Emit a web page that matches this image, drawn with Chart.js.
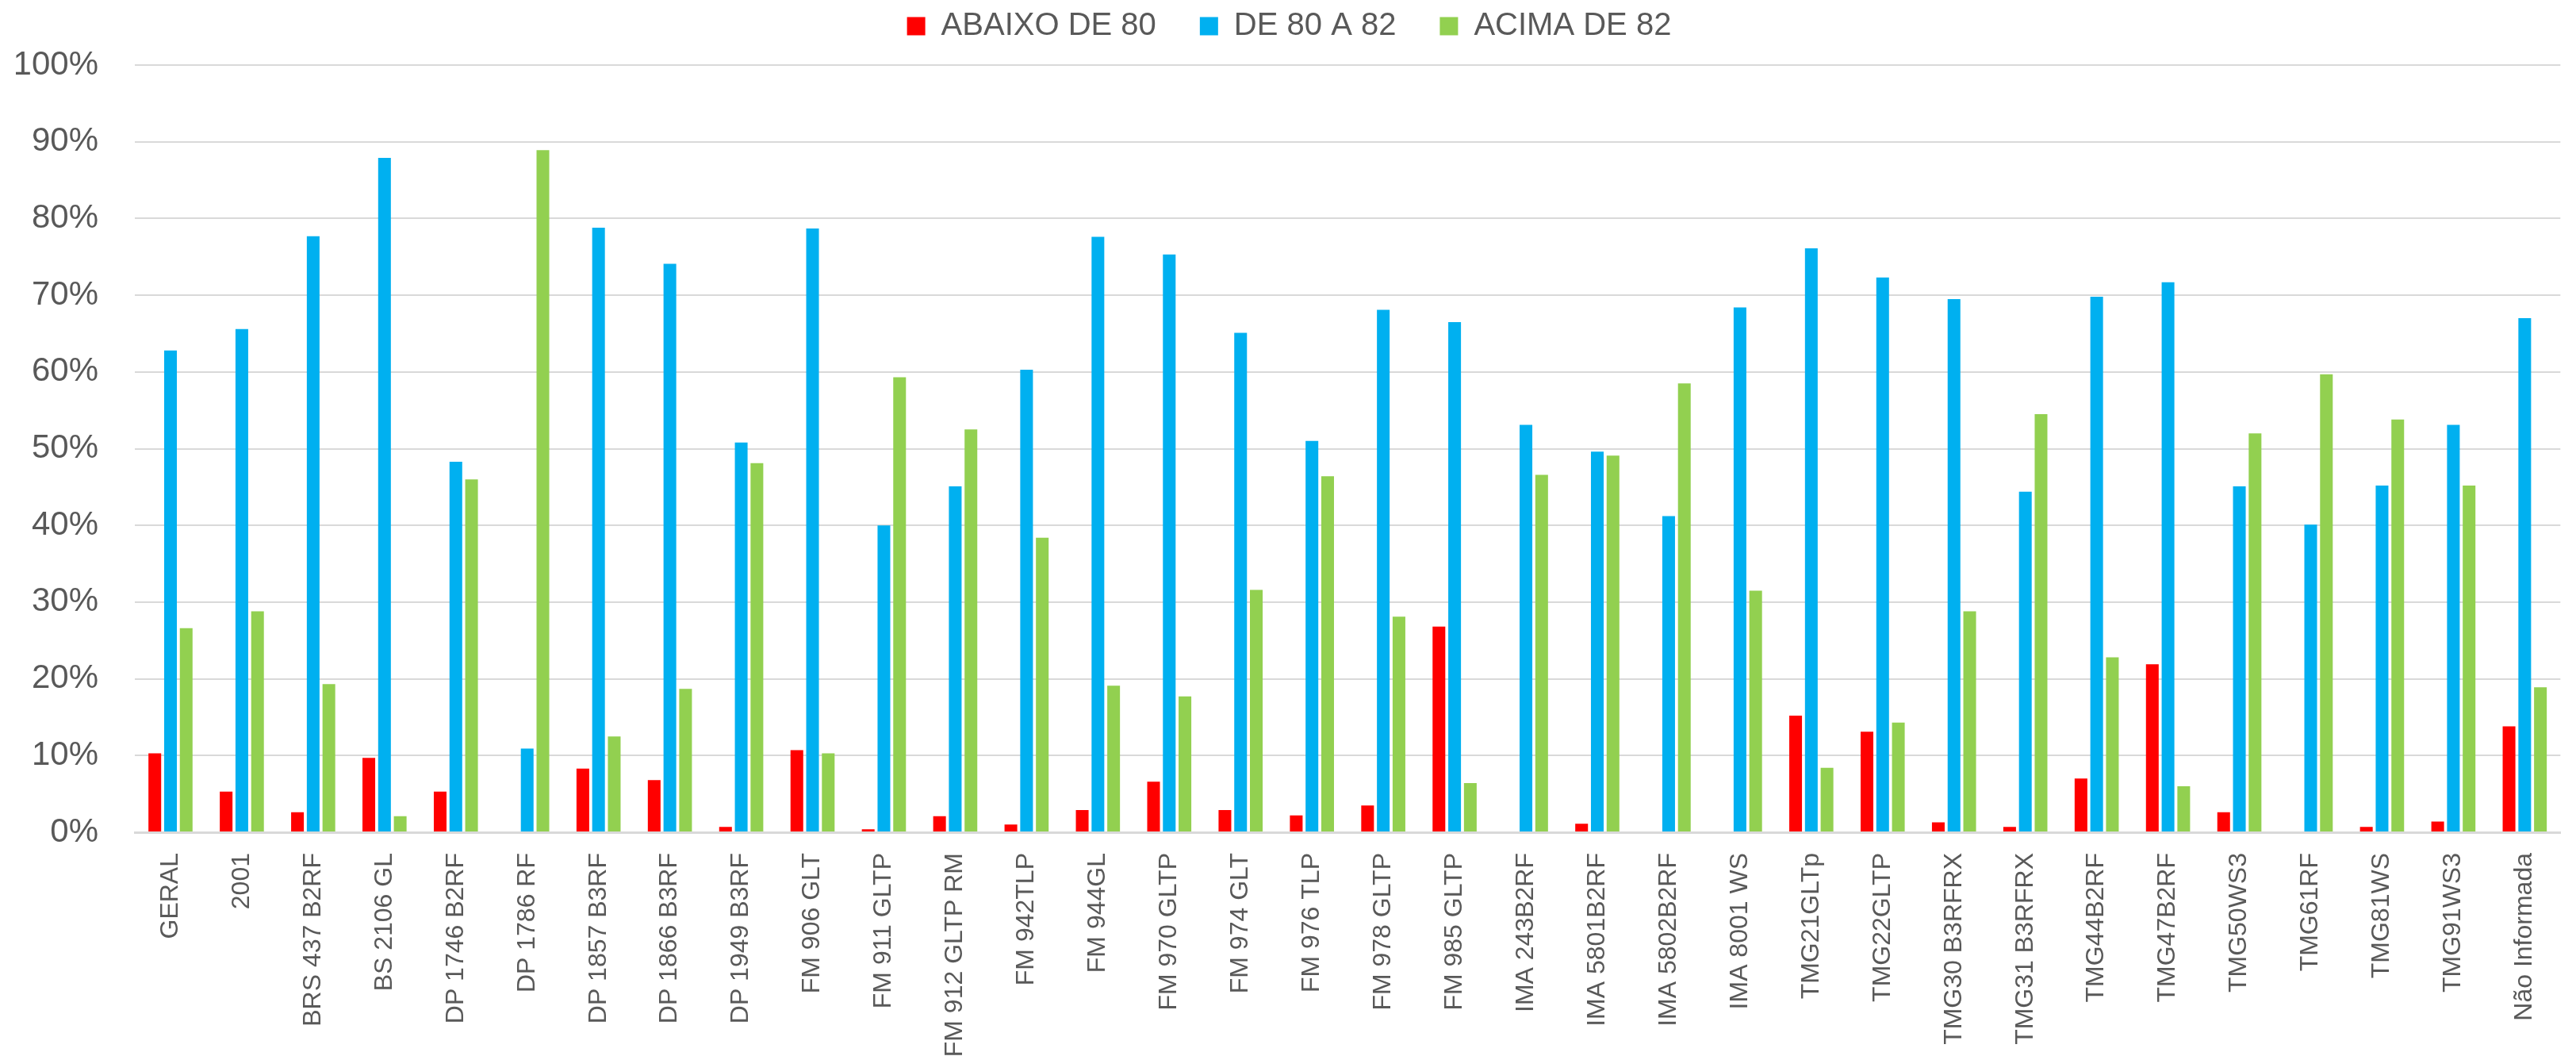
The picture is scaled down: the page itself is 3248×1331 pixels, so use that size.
<!DOCTYPE html>
<html lang="pt-BR">
<head>
<meta charset="utf-8">
<title>Distribuição por cultivar</title>
<script src="https://cdn.jsdelivr.net/npm/chart.js@4/dist/chart.umd.min.js"></script>
<style>
  html, body { margin: 0; padding: 0; background: #fff; overflow: hidden; }
  #caixa { width: 3248px; height: 1331px; position: relative; }
</style>
</head>
<body>
<div id="caixa"><canvas id="grafico"></canvas></div>
<script>
// ─── Dados (em %) ─────────────────────────────────────────────────────────────
const categorias = [
  'GERAL', '2001', 'BRS 437 B2RF', 'BS 2106 GL', 'DP 1746 B2RF', 'DP 1786 RF',
  'DP 1857 B3RF', 'DP 1866 B3RF', 'DP 1949 B3RF', 'FM 906 GLT', 'FM 911 GLTP',
  'FM 912 GLTP RM', 'FM 942TLP', 'FM 944GL', 'FM 970 GLTP', 'FM 974 GLT',
  'FM 976 TLP', 'FM 978 GLTP', 'FM 985 GLTP', 'IMA 243B2RF', 'IMA 5801B2RF',
  'IMA 5802B2RF', 'IMA 8001 WS', 'TMG21GLTp', 'TMG22GLTP', 'TMG30 B3RFRX',
  'TMG31 B3RFRX', 'TMG44B2RF', 'TMG47B2RF', 'TMG50WS3', 'TMG61RF', 'TMG81WS',
  'TMG91WS3', 'Não Informada'
];

const abaixo80 = [
  10.3, 5.3, 2.6, 9.7, 5.3, 0, 8.3, 6.8, 0.7, 10.7, 0.4,
  2.1, 1.0, 2.9, 6.6, 2.9, 2.2, 3.5, 26.8, 0.1, 1.1,
  0, 0, 15.2, 13.1, 1.3, 0.7, 7.0, 21.9, 2.6, 0, 0.7, 1.4, 13.8
];

const de80a82 = [
  62.8, 65.6, 77.7, 87.9, 48.3, 10.9, 78.8, 74.1, 50.8, 78.7, 40.0,
  45.1, 60.3, 77.6, 75.3, 65.1, 51.0, 68.1, 66.5, 53.1, 49.6,
  41.2, 68.4, 76.1, 72.3, 69.5, 44.4, 69.8, 71.7, 45.1, 40.1, 45.2, 53.1, 67.0
];

const acima82 = [
  26.6, 28.8, 19.3, 2.1, 46.0, 88.9, 12.5, 18.7, 48.1, 10.3, 59.3,
  52.5, 38.4, 19.1, 17.7, 31.6, 46.4, 28.1, 6.4, 46.6, 49.1,
  58.5, 31.5, 8.4, 14.3, 28.8, 54.5, 22.8, 6.0, 52.0, 59.7, 53.8, 45.2, 18.9
];

const nomesSeries = ['ABAIXO DE 80', 'DE 80 A 82', 'ACIMA DE 82'];
const ticksY = [0, 10, 20, 30, 40, 50, 60, 70, 80, 90, 100];

// Cores no padrão do Excel
const CORES = ['#FF0000', '#00B0F0', '#92D050'];
const COR_TEXTO = '#595959';
const COR_GRADE = '#D9D9D9';
const FONTE = "'Liberation Sans', Arial, sans-serif";

// A legenda do Chart.js usa o mesmo padding na horizontal e na vertical;
// aqui ela sobe e ocupa menos altura, mantendo o espaço entre os itens.
const ajusteLegenda = {
  id: 'ajusteLegenda',
  afterInit(chart) {
    const lg = chart.legend;
    const fitOrig = lg.fit.bind(lg);
    lg.fit = function () { fitOrig(); this.height -= 23; };
    lg.draw = function () {
      if (!this.options.display) return;
      chart.ctx.save();
      chart.ctx.translate(0, -42);
      this._draw();
      chart.ctx.restore();
    };
  }
};

// ─── Gráfico ──────────────────────────────────────────────────────────────────
function serie(i, dados) {
  return {
    label: nomesSeries[i],
    data: dados,
    backgroundColor: CORES[i],
    borderWidth: 0,
    categoryPercentage: 0.66,
    barPercentage: 0.81
  };
}

new Chart(document.getElementById('grafico'), {
  type: 'bar',
  data: {
    labels: categorias,
    datasets: [serie(0, abaixo80), serie(1, de80a82), serie(2, acima82)]
  },
  plugins: [ajusteLegenda],
  options: {
    responsive: true,
    maintainAspectRatio: false,
    animation: false,
    layout: { padding: { left: 20, right: 17, top: 0, bottom: 0 } },
    plugins: {
      legend: {
        position: 'top',
        labels: {
          color: COR_TEXTO,
          font: { family: FONTE, size: 40 },
          boxWidth: 23,
          boxHeight: 23,
          padding: 55
        }
      },
      tooltip: { enabled: false }
    },
    scales: {
      x: {
        afterFit: s => { s.height = 282; },
        grid: { display: false, drawTicks: false },
        border: { color: COR_GRADE, width: 3 },
        ticks: {
          color: COR_TEXTO,
          font: { family: FONTE, size: 32 },
          minRotation: 90,
          maxRotation: 90,
          autoSkip: false,
          padding: 26
        }
      },
      y: {
        min: 0,
        max: 100,
        afterFit: s => { s.width = 150; },
        afterBuildTicks: eixo => { eixo.ticks = ticksY.map(v => ({ value: v })); },
        grid: { color: COR_GRADE, lineWidth: 2, drawTicks: false },
        border: { display: false },
        ticks: {
          color: COR_TEXTO,
          font: { family: FONTE, size: 42 },
          padding: 46,
          callback: v => v + '%'
        }
      }
    }
  }
});
</script>
</body>
</html>
